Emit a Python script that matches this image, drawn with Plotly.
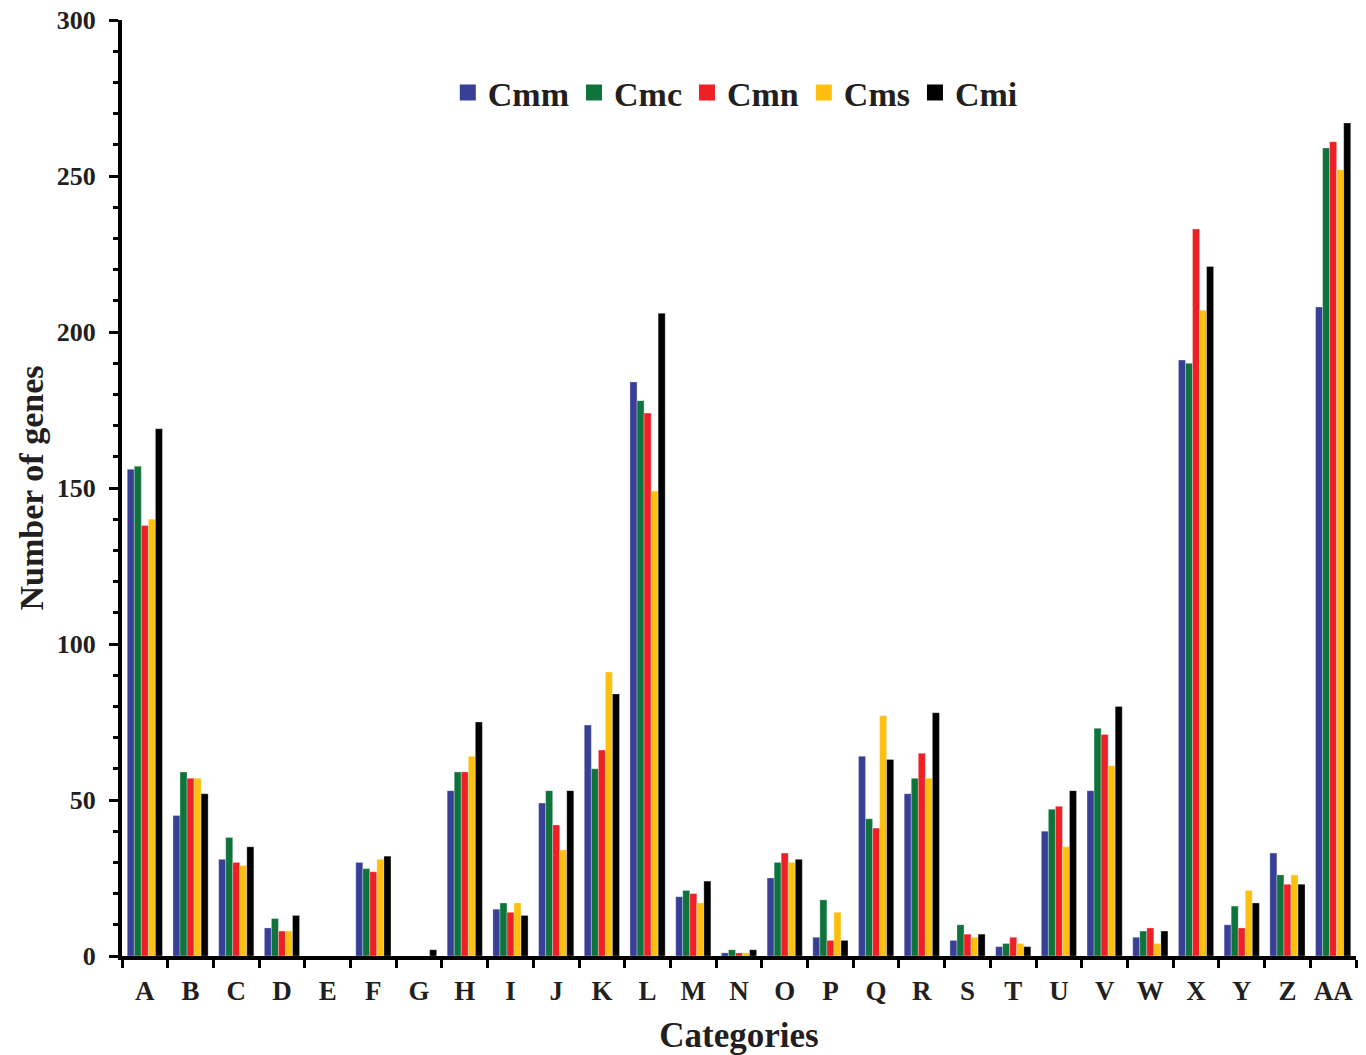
import plotly.graph_objects as go

categories = ["A","B","C","D","E","F","G","H","I","J","K","L","M","N","O","P","Q","R","S","T","U","V","W","X","Y","Z","AA"]
cmm = [156,45,31,9,0,30,0,53,15,49,74,184,19,1,25,6,64,52,5,3,40,53,6,191,10,33,208]
cmc = [157,59,38,12,0,28,0,59,17,53,60,178,21,2,30,18,44,57,10,4,47,73,8,190,16,26,259]
cmn = [138,57,30,8,0,27,0,59,14,42,66,174,20,1,33,5,41,65,7,6,48,71,9,233,9,23,261]
cms = [140,57,29,8,0,31,0,64,17,34,91,149,17,1,30,14,77,57,6,4,35,61,4,207,21,26,252]
cmi = [169,52,35,13,0,32,2,75,13,53,84,206,24,2,31,5,63,78,7,3,53,80,8,221,17,23,267]

series = [("Cmm", cmm, "#373F97"), ("Cmc", cmc, "#0F743C"), ("Cmn", cmn, "#EE2026"),
          ("Cms", cms, "#FDBF10"), ("Cmi", cmi, "#000000")]

font_family = "Liberation Serif"
text_color = "#231F20"

fig = go.Figure()
for name, vals, color in series:
    fig.add_trace(go.Bar(x=categories, y=vals, name=name, showlegend=False,
                         marker=dict(color=color, line=dict(color="rgba(255,255,255,0.5)", width=0.6))))
# legend entries with larger square swatches
for name, vals, color in series:
    fig.add_trace(go.Scatter(x=[None], y=[None], mode="markers", name=name,
                             marker=dict(symbol="square", size=20, color=color)))

fig.update_layout(
    width=1366, height=1055,
    paper_bgcolor="white", plot_bgcolor="white",
    margin=dict(l=122, r=10, t=20, b=99, autoexpand=False),
    barmode="group", bargap=0.23, bargroupgap=0,
    font=dict(family=font_family, color=text_color),
    legend=dict(orientation="h", x=0.497, xanchor="center", y=0.922, yanchor="middle",
                font=dict(size=34, family=font_family, color=text_color, weight="bold"),
                itemwidth=30, tracegroupgap=0, bgcolor="rgba(0,0,0,0)"),
    showlegend=True,
)
fig.update_xaxes(
    range=[-0.5, 26.5], showline=True, linecolor="black", linewidth=4,
    ticks="outside", tickson="boundaries", ticklen=8, tickwidth=3, tickcolor="black",
    tickangle=0, automargin=False, ticklabelstandoff=8,
    tickfont=dict(size=27, family=font_family, color=text_color, weight="bold"),
    title=dict(text="Categories", font=dict(size=35, family=font_family, color=text_color, weight="bold"), standoff=20),
    showgrid=False, zeroline=False,
)
fig.update_yaxes(
    range=[0, 300], dtick=50, showline=True, linecolor="black", linewidth=4,
    ticks="outside", ticklen=9, tickwidth=3, tickcolor="black", automargin=False,
    ticklabelstandoff=8,
    minor=dict(dtick=10, ticks="outside", ticklen=5, tickwidth=3, tickcolor="black", showgrid=False),
    tickfont=dict(size=26, family=font_family, color=text_color, weight="bold"),
    title=dict(text="Number of genes", font=dict(size=34, family=font_family, color=text_color, weight="bold"), standoff=4),
    showgrid=False, zeroline=False,
)

fig.write_html("out.html", config={"displayModeBar": False},
               post_script="document.body.style.margin='0px';")
